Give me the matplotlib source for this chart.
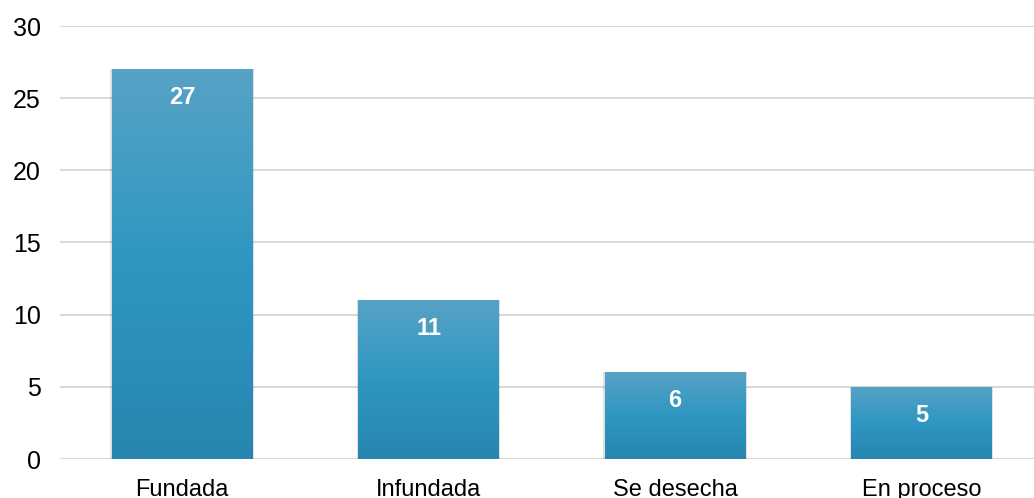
import matplotlib
matplotlib.use("Agg")
import matplotlib.pyplot as plt
import numpy as np
from matplotlib.colors import LinearSegmentedColormap

categories = ["Fundada", "Infundada", "Se desecha", "En proceso"]
values = [27, 11, 6, 5]
yticks = [0, 5, 10, 15, 20, 25, 30]

plt.rcParams['font.family'] = ['Liberation Sans', 'DejaVu Sans']

W, H = 1034, 498
fig = plt.figure(figsize=(W / 100, H / 100), dpi=100)
ax = fig.add_axes([60 / W, (H - 459) / H, (W - 60) / W, (459 - 26) / H])

x = np.arange(len(categories))
bars = ax.bar(x, values, width=0.57, color='none', edgecolor='none', zorder=3)

cmap = LinearSegmentedColormap.from_list('g', ['#2786b0', '#2e97c1', '#57a2c6'])
grad = np.linspace(0, 1, 256).reshape(-1, 1)
for b in bars:
    bx, by, bw, bh = b.get_x(), b.get_y(), b.get_width(), b.get_height()
    shadow = plt.Rectangle((bx - 0.006, by - 0.05), bw + 0.012, bh + 0.05, facecolor='#000000',
                           alpha=0.12, edgecolor='none', zorder=2.4)
    ax.add_patch(shadow)
    im = ax.imshow(grad, cmap=cmap, origin='lower', aspect='auto',
                   extent=[bx, bx + bw, by, by + bh], zorder=3, interpolation='bilinear')
    im.set_clip_path(b)
    ax.annotate(str(int(bh)), xy=(bx + bw / 2, by + bh), xytext=(0, -20.5),
                textcoords='offset points', ha='center', va='center',
                color='white', fontsize=17, fontweight='bold', zorder=5)

ax.set_xlim(-0.495, 3.456)
ax.set_ylim(0, 30)
ax.set_yticks(yticks)
ax.set_xticks(x)
ax.set_xticklabels(categories)
ax.tick_params(axis='both', length=0, colors='black')
ax.tick_params(axis='y', pad=14, labelsize=18)
ax.tick_params(axis='x', pad=14.5, labelsize=17)
ax.yaxis.grid(True, color='#d9d9d9', linewidth=1.5, zorder=0)
ax.set_axisbelow(True)
for s in ax.spines.values():
    s.set_visible(False)

fig.savefig("out.png", dpi=100)
